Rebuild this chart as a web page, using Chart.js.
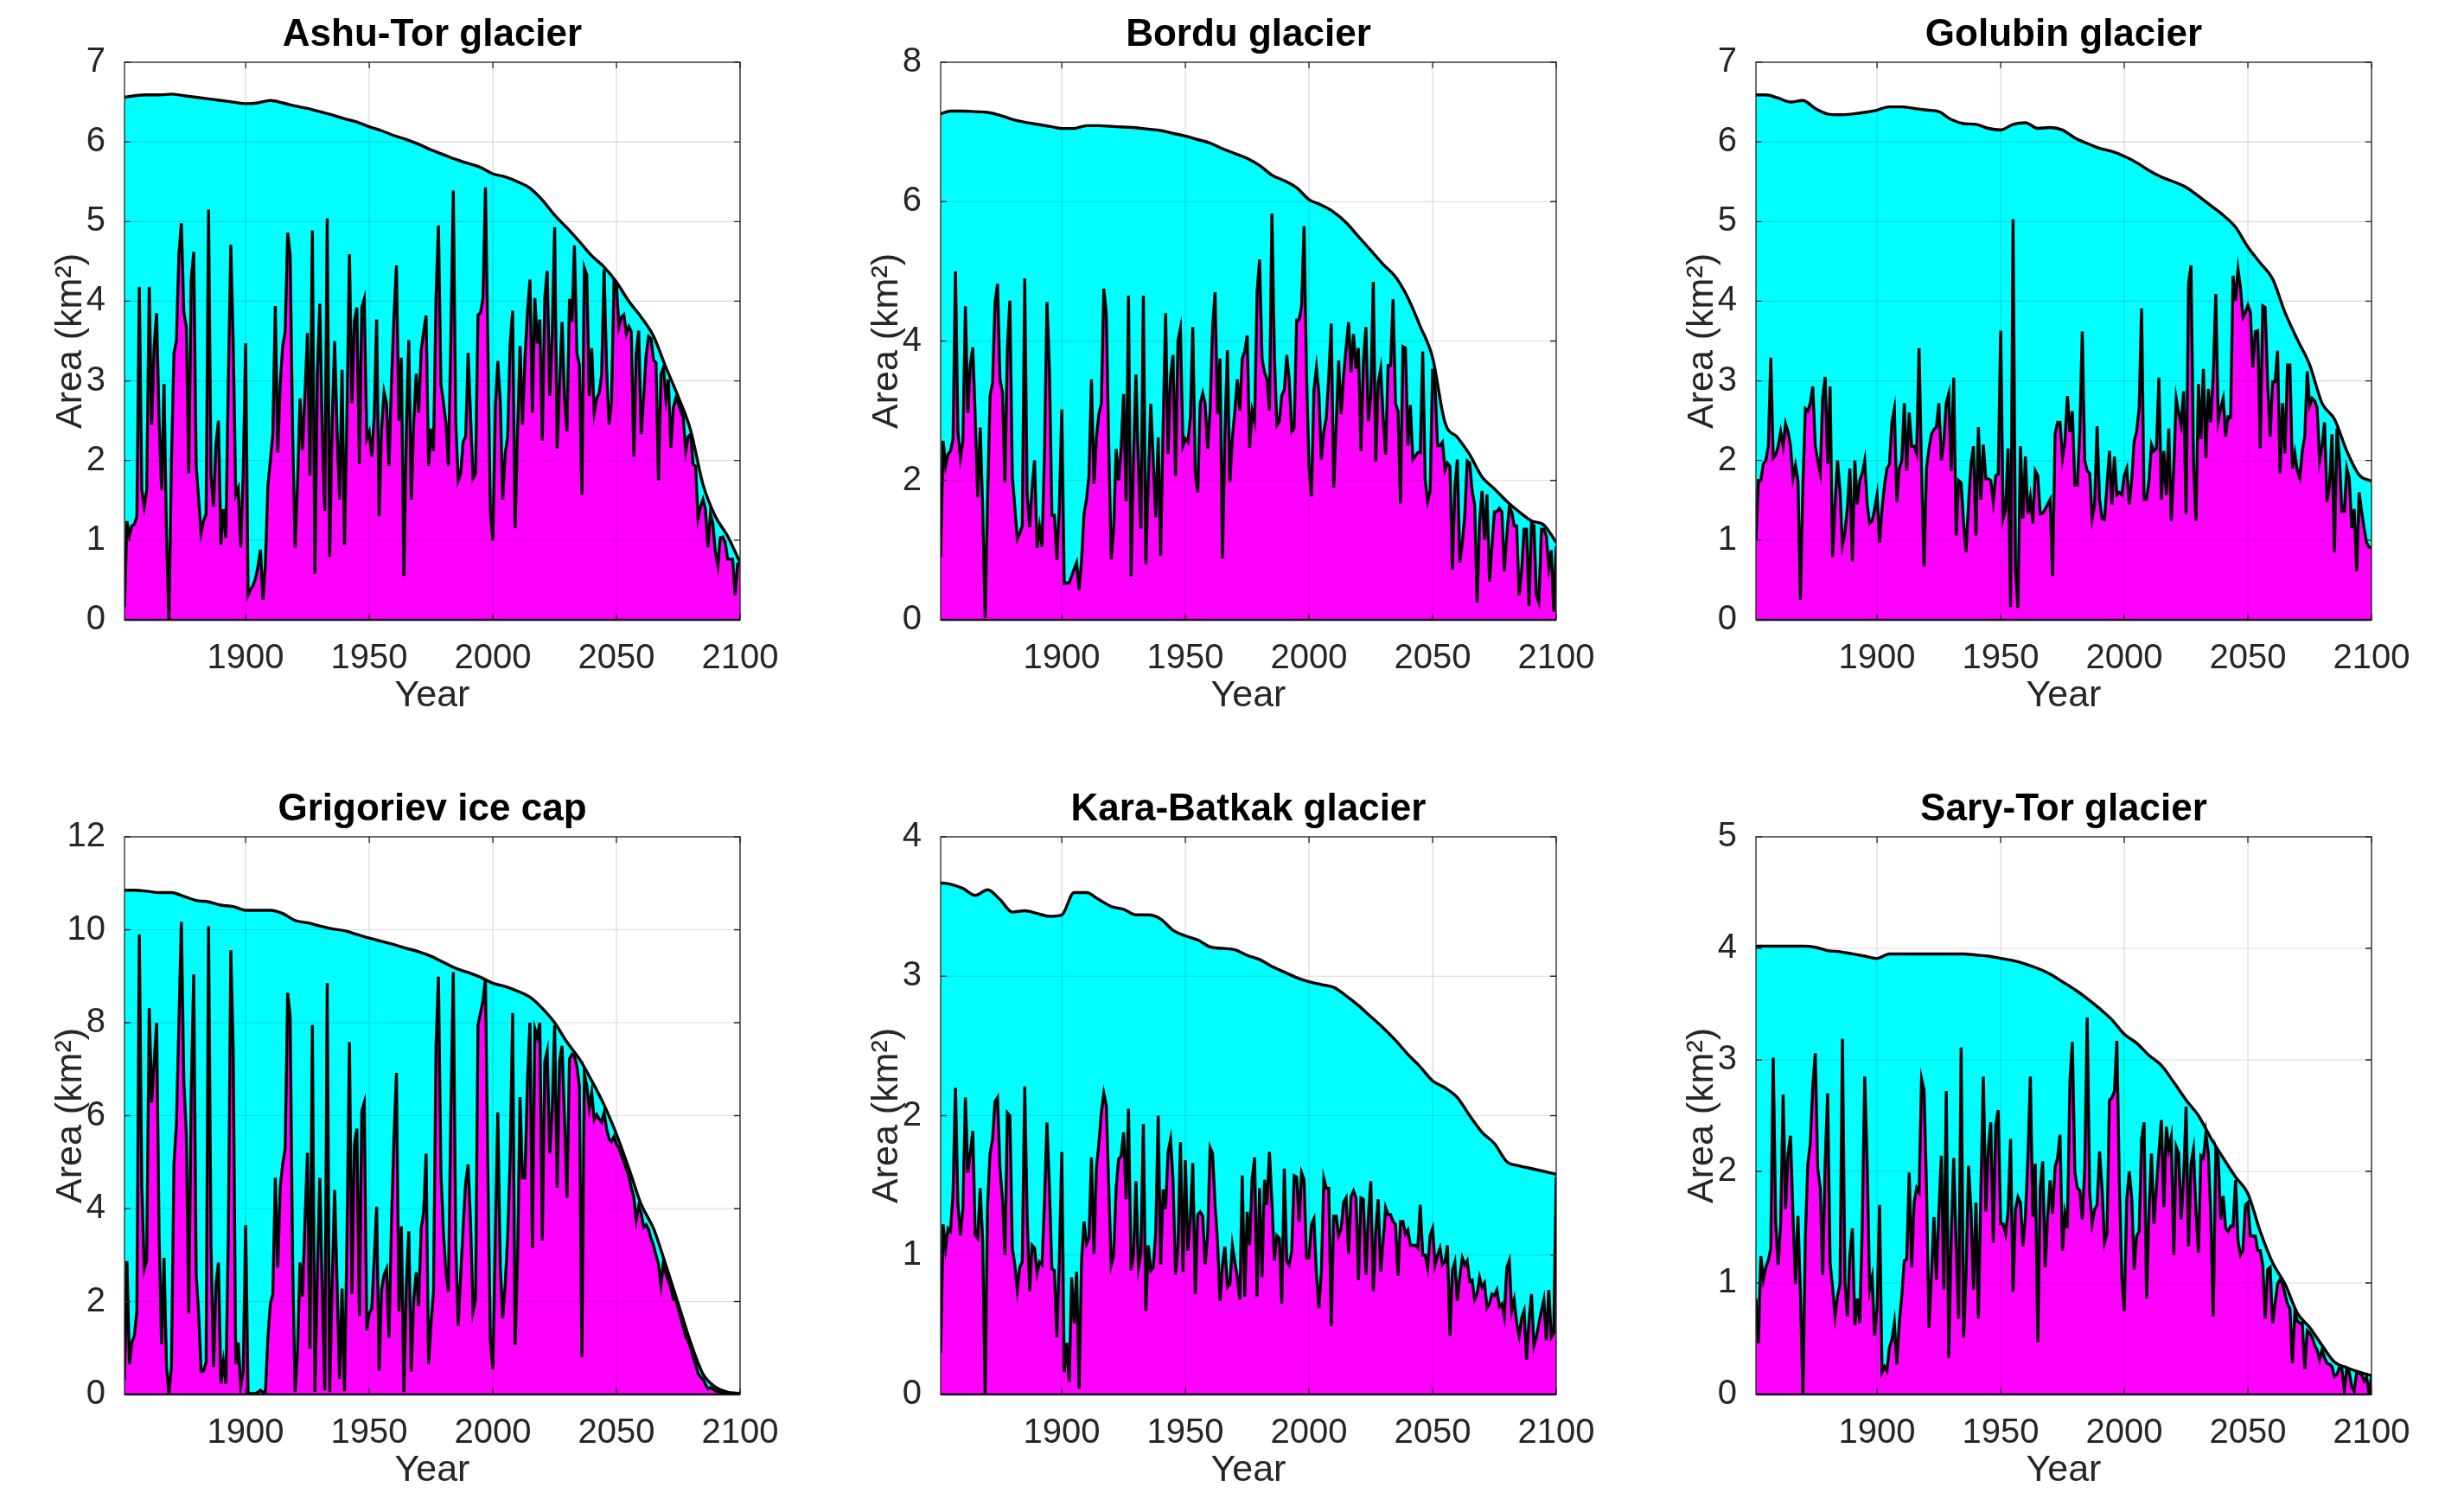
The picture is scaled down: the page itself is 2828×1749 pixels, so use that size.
<!DOCTYPE html>
<html>
<head>
<meta charset="utf-8">
<title>Glacier and snow-covered area</title>
<script src="https://cdn.jsdelivr.net/npm/chart.js@4"></script>
<style>
  html, body { margin: 0; padding: 0; background: #fff; }
  body { width: 2828px; height: 1749px; position: relative; overflow: hidden; }
  canvas { position: absolute; }
</style>
</head>
<body>
<script>
// annual series start here, one value per year up to 2100
const firstYear = 1851;
// glacier area is read every five years
const areaYears = [1851, 1855, 1860, 1865, 1870, 1875, 1880, 1885, 1890, 1895,
  1900, 1905, 1910, 1915, 1920, 1925, 1930, 1935, 1940, 1945,
  1950, 1955, 1960, 1965, 1970, 1975, 1980, 1985, 1990, 1995,
  2000, 2005, 2010, 2015, 2020, 2025, 2030, 2035, 2040, 2045,
  2050, 2055, 2060, 2065, 2070, 2075, 2080, 2085, 2090, 2095, 2100];
const xTicks = [1900, 1950, 2000, 2050, 2100];

const titles = ['Ashu-Tor glacier', 'Bordu glacier', 'Golubin glacier',
  'Grigoriev ice cap', 'Kara-Batkak glacier', 'Sary-Tor glacier'];
const yMax = [7, 8, 7, 12, 4, 5];
const yStep = [1, 2, 1, 2, 1, 1];

// glacier area (km2), cyan
const ashuTorArea = [6.56, 6.58, 6.59, 6.59, 6.6, 6.58, 6.56, 6.54, 6.52, 6.5,
  6.48, 6.49, 6.52, 6.49, 6.45, 6.42, 6.38, 6.34, 6.29, 6.25,
  6.19, 6.14, 6.08, 6.03, 5.97, 5.9, 5.84, 5.78, 5.73, 5.68,
  5.6, 5.56, 5.5, 5.42, 5.27, 5.08, 4.92, 4.75, 4.57, 4.43,
  4.24, 4.0, 3.8, 3.56, 3.17, 2.8, 2.38, 1.7, 1.3, 1.05, 0.72];
const borduArea = [7.26, 7.3, 7.3, 7.29, 7.28, 7.24, 7.18, 7.14, 7.11, 7.08,
  7.05, 7.05, 7.09, 7.09, 7.08, 7.07, 7.06, 7.04, 7.02, 6.98,
  6.94, 6.89, 6.84, 6.76, 6.69, 6.62, 6.52, 6.38, 6.3, 6.2,
  6.03, 5.95, 5.85, 5.7, 5.5, 5.3, 5.1, 4.92, 4.62, 4.21,
  3.76, 2.83, 2.62, 2.37, 2.05, 1.88, 1.7, 1.55, 1.42, 1.36, 1.11];
const golubinArea = [6.59, 6.59, 6.55, 6.5, 6.52, 6.42, 6.35, 6.34, 6.35, 6.37,
  6.4, 6.44, 6.44, 6.42, 6.4, 6.38, 6.28, 6.23, 6.22, 6.17,
  6.15, 6.22, 6.24, 6.17, 6.18, 6.15, 6.05, 5.98, 5.92, 5.88,
  5.82, 5.74, 5.64, 5.56, 5.5, 5.43, 5.32, 5.2, 5.08, 4.93,
  4.68, 4.48, 4.28, 3.86, 3.52, 3.2, 2.72, 2.52, 2.12, 1.82, 1.74];
const grigorievArea = [10.85, 10.85, 10.83, 10.8, 10.8, 10.72, 10.63, 10.6, 10.53, 10.5,
  10.42, 10.42, 10.42, 10.35, 10.2, 10.15, 10.08, 10.02, 9.98, 9.9,
  9.82, 9.75, 9.68, 9.6, 9.53, 9.43, 9.3, 9.17, 9.08, 8.98,
  8.85, 8.78, 8.68, 8.55, 8.31, 8.0, 7.58, 7.22, 6.75, 6.23,
  5.6, 4.87, 4.09, 3.57, 2.78, 1.95, 1.12, 0.44, 0.16, 0.05, 0.02];
const karaBatkakArea = [3.67, 3.66, 3.63, 3.58, 3.62, 3.55, 3.46, 3.47, 3.45, 3.43,
  3.44, 3.6, 3.6, 3.55, 3.5, 3.48, 3.44, 3.44, 3.41, 3.33,
  3.29, 3.26, 3.21, 3.2, 3.19, 3.15, 3.12, 3.07, 3.03, 2.99,
  2.96, 2.94, 2.92, 2.86, 2.79, 2.71, 2.63, 2.54, 2.44, 2.35,
  2.25, 2.2, 2.13, 2.0, 1.88, 1.8, 1.67, 1.64, 1.62, 1.6, 1.58];
const saryTorArea = [4.02, 4.02, 4.02, 4.02, 4.02, 4.01, 3.98, 3.97, 3.95, 3.93,
  3.91, 3.95, 3.95, 3.95, 3.95, 3.95, 3.95, 3.95, 3.94, 3.93,
  3.91, 3.89, 3.86, 3.82, 3.77, 3.7, 3.63, 3.55, 3.46, 3.36,
  3.23, 3.15, 3.04, 2.95, 2.8, 2.64, 2.5, 2.3, 2.12, 1.95,
  1.8, 1.46, 1.18, 0.99, 0.73, 0.6, 0.44, 0.29, 0.24, 0.2, 0.17];

// snow-covered area (km2), magenta, 1851-2100
const ashuTorSnow = [
  0.16, 1.24, 1.06, 1.18, 1.2, 1.3, 4.18, 1.63, 1.42, 1.63,
  4.18, 2.45, 3.44, 3.85, 2.48, 1.63, 2.96, 1.03, 0.0, 2.0,
  3.35, 3.5, 4.59, 4.98, 3.86, 3.68, 1.84, 4.28, 4.62, 1.93,
  1.51, 1.09, 1.24, 1.33, 5.15, 1.81, 1.42, 2.2, 2.5, 0.94,
  1.39, 1.03, 3.0, 4.71, 3.44, 1.57, 1.65, 0.91, 1.81, 3.47,
  0.31, 0.38, 0.43, 0.52, 0.67, 0.88, 0.25, 0.7, 1.68, 2.0,
  2.33, 3.94, 2.1, 2.96, 3.44, 3.62, 4.86, 4.59, 2.36, 0.91,
  1.69, 2.78, 2.13, 2.84, 3.6, 1.81, 4.89, 0.58, 3.08, 3.97,
  2.36, 1.37, 5.04, 0.79, 2.48, 3.5, 2.36, 1.51, 3.14, 0.94,
  2.6, 4.59, 2.72, 3.75, 3.92, 1.96, 3.92, 4.03, 2.27, 2.36,
  2.05, 2.54, 3.77, 1.3, 2.4, 2.86, 2.72, 1.93, 3.0, 3.8,
  4.45, 2.5, 3.29, 0.55, 2.36, 3.51, 1.51, 2.48, 3.09, 2.6,
  3.38, 3.62, 3.82, 1.93, 2.4, 2.12, 4.04, 4.95, 2.96, 2.73,
  2.48, 1.93, 3.5, 5.39, 2.48, 1.75, 1.84, 2.24, 2.3, 3.35,
  2.54, 1.78, 1.84, 3.83, 3.85, 4.04, 5.43, 3.4, 1.36, 1.0,
  2.66, 3.25, 2.75, 1.51, 2.09, 2.3, 3.47, 3.88, 1.15, 2.36,
  3.44, 2.45, 3.29, 3.86, 4.27, 2.6, 4.04, 3.47, 3.77, 2.25,
  4.04, 4.38, 2.81, 3.56, 4.93, 2.15, 2.96, 3.74, 2.78, 2.37,
  4.03, 3.74, 4.7, 3.35, 3.2, 1.57, 4.42, 4.33, 2.81, 3.41,
  2.6, 2.78, 2.84, 3.08, 4.4, 3.17, 2.45, 2.72, 4.24, 4.2,
  3.68, 3.8, 3.83, 3.59, 3.68, 3.62, 2.05, 3.35, 3.63, 2.33,
  2.78, 3.32, 3.56, 3.53, 3.26, 3.23, 1.75, 3.08, 3.17, 2.78,
  3.02, 2.16, 2.66, 2.78, 2.72, 2.63, 2.54, 2.12, 2.3, 2.33,
  1.95, 1.93, 1.27, 1.42, 1.51, 1.39, 0.91, 1.33, 1.21, 0.85,
  0.68, 1.03, 1.04, 0.97, 0.76, 0.76, 0.76, 0.31, 0.7, 0.7];
const borduSnow = [
  0.9, 2.57, 2.21, 2.38, 2.42, 2.6, 5.0, 2.7, 2.32, 2.56,
  4.5, 2.97, 3.66, 3.91, 2.9, 1.76, 2.76, 1.6, 0.03, 1.73,
  3.22, 3.4, 4.55, 4.82, 3.45, 3.26, 1.97, 3.9, 4.58, 2.05,
  1.62, 1.16, 1.24, 1.35, 4.9, 1.79, 1.33, 1.9, 2.29, 1.03,
  1.33, 1.05, 2.4, 4.56, 3.6, 1.5, 1.5, 0.86, 1.6, 3.02,
  0.52, 0.53, 0.53, 0.63, 0.73, 0.82, 0.43, 0.85, 1.52, 1.73,
  2.07, 3.45, 1.95, 2.6, 2.95, 3.1, 4.75, 4.4, 2.5, 0.87,
  1.3, 2.45, 2.0, 2.45, 3.24, 1.7, 4.65, 0.62, 2.3, 3.52,
  2.2, 1.3, 4.65, 0.8, 2.0, 3.1, 2.3, 1.47, 2.62, 0.92,
  2.8, 4.4, 2.38, 3.5, 3.8, 2.07, 4.0, 4.18, 2.5, 2.6,
  2.55, 2.9, 4.2, 2.1, 1.83, 3.1, 3.25, 3.1, 2.45, 3.0,
  4.2, 4.7, 2.95, 3.75, 0.88, 2.7, 3.87, 1.98, 2.6, 3.0,
  3.45, 3.0, 3.75, 3.85, 4.08, 2.47, 3.0, 2.85, 4.7, 5.17,
  3.75, 3.55, 3.45, 3.0, 5.83, 3.8, 2.79, 2.85, 3.22, 3.3,
  3.8, 3.45, 2.7, 2.75, 4.3, 4.3, 4.5, 5.65, 3.5, 2.2,
  1.77, 3.3, 3.62, 3.25, 2.3, 2.7, 2.9, 3.5, 4.25, 1.9,
  2.8, 3.72, 2.95, 3.5, 3.9, 4.27, 3.55, 4.1, 3.6, 3.9,
  2.42, 3.7, 4.2, 2.85, 3.2, 4.85, 2.27, 3.4, 3.6, 2.9,
  2.37, 3.65, 3.65, 4.6, 3.1, 3.0, 1.67, 3.92, 3.9, 2.5,
  3.08, 2.3, 2.35, 2.4, 2.4, 3.85, 2.0, 1.7, 1.85, 3.6,
  3.35, 2.5, 2.5, 2.55, 2.15, 2.25, 2.2, 0.72, 1.9, 2.3,
  0.82, 1.1, 1.5, 2.28, 2.25, 1.85, 1.65, 0.25, 1.4, 1.85,
  1.15, 1.8, 0.55, 1.05, 1.55, 1.55, 1.6, 1.55, 0.7, 1.2,
  1.62, 1.55, 1.35, 1.35, 0.35, 0.7, 1.3, 1.3, 0.2, 1.38,
  1.35, 0.35, 0.25, 1.3, 1.3, 1.2, 0.75, 1.0, 0.12, 1.05];
const golubinSnow = [
  1.0, 1.75, 1.75, 1.96, 2.0, 2.18, 3.29, 2.03, 2.07, 2.18,
  2.36, 2.18, 2.46, 2.36, 2.18, 1.78, 1.94, 1.75, 0.25, 1.7,
  2.65, 2.62, 2.72, 2.93, 2.18, 2.0, 1.84, 2.78, 3.05, 1.96,
  2.93, 0.79, 1.45, 2.0, 1.63, 0.94, 1.09, 1.42, 1.9, 0.73,
  2.0, 1.45, 1.75, 1.84, 2.0, 1.45, 1.21, 1.24, 1.39, 1.57,
  0.97, 1.39, 1.69, 1.9, 1.95, 2.48, 2.65, 1.48, 1.9, 2.0,
  2.72, 1.87, 2.6, 2.18, 2.18, 2.09, 3.41, 1.87, 0.67, 1.9,
  2.15, 2.33, 2.39, 2.42, 2.72, 2.0, 2.24, 2.72, 2.84, 1.87,
  3.04, 1.06, 1.75, 1.72, 1.21, 0.85, 1.45, 1.96, 2.18, 1.06,
  2.42, 1.51, 2.2, 1.77, 1.77, 1.75, 1.48, 1.81, 1.83, 3.63,
  1.27, 1.39, 2.15, 0.16, 5.03, 0.65, 0.15, 2.18, 1.27, 2.05,
  1.33, 1.54, 1.21, 1.87, 1.81, 1.33, 1.34, 1.39, 1.45, 1.51,
  0.55, 2.33, 2.48, 2.48, 2.03, 2.24, 2.81, 2.36, 2.62, 1.69,
  1.69, 2.36, 3.62, 2.0, 1.87, 1.84, 1.27, 1.45, 2.43, 1.51,
  1.27, 1.26, 1.69, 2.12, 1.45, 2.05, 1.57, 1.6, 1.57, 1.81,
  1.9, 1.45, 1.75, 2.25, 2.36, 2.66, 3.91, 1.51, 1.51, 1.75,
  2.2, 2.12, 2.15, 3.04, 1.51, 2.12, 1.57, 2.4, 1.24, 1.9,
  2.78, 2.6, 2.45, 2.87, 1.33, 4.23, 4.45, 1.96, 1.24, 2.96,
  2.27, 3.15, 2.03, 2.9, 2.48, 3.08, 4.09, 2.5, 2.66, 2.78,
  2.3, 2.55, 2.54, 4.32, 4.0, 4.4, 4.17, 3.8, 3.86, 3.95,
  3.86, 3.17, 3.62, 3.63, 2.15, 3.94, 3.92, 2.96, 2.3, 2.99,
  2.99, 3.38, 1.84, 2.72, 2.09, 3.2, 3.2, 1.9, 2.09, 1.87,
  1.78, 2.12, 2.3, 3.12, 2.69, 2.78, 2.75, 2.66, 2.0, 2.18,
  2.48, 1.48, 1.69, 2.33, 0.85, 2.4, 2.05, 1.36, 1.36, 1.9,
  1.78, 1.15, 1.39, 0.61, 1.6, 1.36, 1.15, 0.97, 0.91, 0.91];
const grigorievSnow = [
  0.31, 2.87, 0.65, 1.12, 1.27, 1.79, 9.9, 4.45, 2.7, 2.89,
  8.31, 6.28, 7.16, 8.0, 3.41, 1.08, 2.94, 0.59, 0.02, 0.59,
  4.97, 5.81, 8.0, 10.17, 6.75, 5.6, 1.74, 6.54, 9.04, 2.58,
  1.74, 0.49, 0.51, 0.7, 10.08, 3.2, 0.59, 2.37, 2.84, 0.23,
  0.7, 0.23, 3.41, 9.56, 7.37, 0.65, 1.12, 0.18, 0.49, 3.64,
  0.02, 0.02, 0.02, 0.02, 0.05, 0.09, 0.05, 0.05, 1.22, 1.95,
  2.16, 4.66, 2.73, 4.45, 4.97, 5.29, 8.64, 8.15, 2.89, 0.05,
  0.91, 2.84, 2.11, 3.72, 5.2, 0.98, 7.95, 0.05, 2.58, 4.66,
  2.26, 0.09, 8.85, 0.05, 2.37, 4.4, 2.37, 0.33, 2.28, 0.07,
  3.41, 7.58, 2.16, 5.39, 5.72, 1.69, 6.1, 6.28, 1.38, 1.74,
  1.85, 2.89, 4.04, 0.51, 2.26, 2.58, 2.7, 1.22, 3.72, 5.5,
  6.92, 1.79, 3.62, 0.05, 2.37, 3.51, 0.49, 2.05, 2.63, 1.9,
  3.57, 3.93, 5.18, 0.65, 1.53, 2.21, 7.48, 8.99, 4.77, 3.51,
  2.63, 2.21, 6.02, 9.09, 3.2, 1.48, 2.58, 3.62, 4.56, 4.95,
  3.67, 1.79, 2.05, 7.95, 8.21, 8.47, 8.94, 4.77, 1.17, 0.54,
  3.41, 6.07, 2.78, 1.64, 2.37, 3.41, 5.08, 8.21, 1.06, 2.89,
  6.4, 4.66, 4.66, 6.75, 8.0, 3.15, 7.87, 7.69, 8.0, 3.31,
  7.16, 7.39, 5.18, 6.12, 7.95, 4.45, 7.16, 7.5, 5.91, 4.24,
  7.22, 7.32, 7.28, 7.06, 6.64, 0.8, 6.9, 6.64, 6.17, 6.49,
  5.91, 6.02, 5.93, 5.86, 6.07, 5.72, 5.5, 5.44, 5.55, 5.39,
  5.3, 5.15, 5.0, 4.85, 4.7, 4.45, 4.25, 3.75, 4.05, 3.9,
  3.6, 3.65, 3.55, 3.35, 3.2, 3.0, 2.8, 2.35, 2.85, 2.6,
  2.45, 2.3, 2.05, 2.05, 1.85, 1.65, 1.45, 1.25, 1.15, 1.0,
  0.8, 0.65, 0.45, 0.38, 0.32, 0.22, 0.12, 0.15, 0.12, 0.08,
  0.06, 0.05, 0.05, 0.04, 0.04, 0.03, 0.03, 0.02, 0.02, 0.02];
const karaBatkakSnow = [
  0.3, 1.22, 1.05, 1.19, 1.17, 1.45, 2.2, 1.36, 1.14, 1.33,
  2.13, 1.59, 1.73, 1.89, 1.14, 1.12, 1.48, 1.1, 0.0, 1.36,
  1.73, 1.83, 2.1, 2.13, 1.62, 1.4, 1.0, 2.02, 2.0, 1.05,
  0.93, 0.75, 0.91, 0.95, 2.21, 1.28, 0.74, 1.07, 1.05, 0.87,
  0.95, 0.93, 1.38, 1.95, 1.48, 0.9, 0.89, 0.41, 0.96, 1.74,
  0.16, 0.37, 0.09, 0.84, 0.51, 0.88, 0.04, 0.96, 1.24, 1.08,
  1.12, 1.7, 1.01, 1.62, 1.8, 2.02, 2.16, 2.07, 1.48, 0.93,
  1.0, 1.48, 1.69, 1.71, 1.88, 1.4, 2.05, 0.89, 1.0, 1.53,
  0.91, 1.01, 1.94, 0.6, 1.07, 0.89, 0.91, 1.17, 2.0, 0.93,
  1.47, 1.33, 1.74, 1.83, 1.54, 0.86, 1.07, 1.81, 0.88, 1.68,
  1.03, 1.26, 1.66, 0.72, 1.29, 1.31, 1.28, 0.93, 1.14, 1.77,
  1.73, 1.36, 1.1, 0.67, 0.93, 1.06, 0.77, 0.79, 1.07, 0.95,
  0.84, 0.68, 1.57, 0.7, 1.31, 1.07, 1.55, 1.7, 0.7, 1.48,
  0.84, 1.54, 1.36, 1.74, 1.38, 0.96, 1.14, 1.12, 0.65, 1.62,
  0.96, 0.93, 1.03, 1.57, 1.56, 1.24, 1.59, 1.54, 0.98, 0.98,
  1.22, 1.26, 0.86, 0.62, 0.88, 1.55, 1.48, 1.48, 0.49, 1.28,
  1.28, 1.14, 1.19, 1.38, 1.41, 1.01, 1.42, 1.46, 1.41, 0.82,
  1.41, 1.4, 0.86, 1.28, 1.53, 0.74, 1.17, 1.4, 0.88, 1.1,
  1.34, 1.29, 1.29, 1.24, 1.22, 0.85, 1.24, 1.24, 1.15, 1.18,
  1.07, 1.07, 1.07, 1.05, 1.36, 1.0, 1.0, 0.91, 1.14, 1.19,
  0.93, 1.0, 1.05, 0.93, 0.95, 1.07, 0.42, 0.89, 0.95, 0.67,
  0.84, 0.98, 0.93, 0.96, 0.81, 0.82, 0.68, 0.72, 0.84, 0.77,
  0.8, 0.62, 0.65, 0.72, 0.71, 0.75, 0.63, 0.65, 0.56, 0.91,
  0.96, 0.6, 0.68, 0.51, 0.42, 0.55, 0.6, 0.25, 0.53, 0.72,
  0.35, 0.41, 0.51, 0.6, 0.68, 0.39, 0.75, 0.41, 0.44, 1.56];
const saryTorSnow = [
  0.86, 0.46, 1.24, 1.03, 1.14, 1.2, 1.31, 3.02, 1.53, 1.16,
  1.53, 2.69, 1.66, 2.16, 2.32, 1.59, 0.99, 1.6, 0.9, 0.0,
  1.42, 2.07, 2.25, 2.77, 3.06, 2.03, 1.85, 1.07, 2.07, 2.7,
  1.18, 0.96, 0.7, 0.88, 0.99, 3.19, 0.99, 0.7, 1.25, 1.49,
  0.62, 0.86, 0.64, 1.51, 2.85, 2.07, 0.94, 1.05, 0.53, 0.77,
  1.7, 0.2, 0.25, 0.21, 0.42, 0.49, 0.64, 0.27, 0.64, 0.88,
  1.2, 1.21, 1.99, 1.14, 1.72, 1.85, 1.81, 2.83, 2.73, 1.85,
  0.6, 1.07, 1.59, 1.03, 1.64, 2.14, 0.94, 2.72, 0.33, 1.42,
  2.12, 1.33, 0.68, 3.11, 0.51, 1.07, 2.05, 1.66, 0.94, 1.72,
  0.68, 1.85, 2.85, 1.64, 2.2, 2.44, 1.36, 2.42, 2.55, 1.53,
  1.53, 1.44, 1.64, 2.29, 0.92, 1.66, 1.77, 1.72, 1.33, 1.59,
  2.12, 2.85, 1.59, 2.07, 0.47, 1.85, 2.09, 1.14, 1.59, 1.92,
  1.62, 2.04, 2.12, 2.33, 1.29, 1.62, 1.49, 2.81, 3.16, 1.99,
  1.85, 1.83, 1.57, 2.03, 3.38, 1.81, 1.53, 1.66, 1.7, 2.18,
  1.85, 1.36, 1.44, 2.64, 2.66, 2.72, 3.17, 1.9, 1.05, 0.75,
  1.75, 2.0, 1.77, 1.12, 1.42, 1.46, 2.29, 2.44, 0.86, 1.64,
  2.16, 1.53, 1.85, 2.18, 2.46, 1.68, 2.4, 2.2, 2.31, 1.25,
  2.22, 2.16, 1.57, 1.94, 2.58, 1.33, 2.07, 2.2, 1.64, 1.27,
  2.14, 2.12, 2.34, 2.16, 1.59, 0.7, 2.2, 2.12, 1.57, 1.78,
  1.49, 1.46, 1.51, 1.51, 1.92, 1.38, 1.25, 1.29, 1.7, 1.72,
  1.42, 1.42, 1.42, 1.29, 1.29, 1.16, 0.68, 1.12, 1.14, 0.64,
  0.81, 0.99, 1.03, 0.99, 0.9, 0.81, 0.77, 0.28, 0.74, 0.66,
  0.64, 0.64, 0.23, 0.57, 0.55, 0.51, 0.44, 0.4, 0.31, 0.4,
  0.33, 0.28, 0.27, 0.25, 0.16, 0.18, 0.24, 0.23, 0.03, 0.23,
  0.2, 0.07, 0.03, 0.2, 0.19, 0.18, 0.12, 0.16, 0.01, 0.16];

const areas = [ashuTorArea, borduArea, golubinArea, grigorievArea, karaBatkakArea, saryTorArea];
const snows = [ashuTorSnow, borduSnow, golubinSnow, grigorievSnow, karaBatkakSnow, saryTorSnow];

// page layout: plot box of each panel
const boxLefts = [144, 1088, 2031];
const boxTops = [72, 968];
const boxW = 712;
const boxH = 645;
const axisW = 144;   // room left of the box for ticks and y label
const titleH = 72;   // room above the box
const xAxisH = 124;  // room under the box
const padRight = 70;

const font = "'Liberation Sans', Arial, Helvetica, sans-serif";
const ink = '#262626';
const lineW = 3.4;

// grid above the fills, inward ticks and the box, as matlab draws it
const frame = {
  id: 'frame',
  afterDatasetsDraw(chart) {
    const { ctx, chartArea: a, scales: { x, y } } = chart;
    const xs = x.ticks.map((t) => x.getPixelForValue(t.value));
    const ys = y.ticks.map((t) => y.getPixelForValue(t.value));
    ctx.save();
    ctx.lineWidth = 1.2;
    ctx.strokeStyle = 'rgba(38,38,38,0.17)';
    ctx.beginPath();
    xs.forEach((px) => { ctx.moveTo(px, a.top); ctx.lineTo(px, a.bottom); });
    ys.forEach((py) => { ctx.moveTo(a.left, py); ctx.lineTo(a.right, py); });
    ctx.stroke();

    ctx.strokeStyle = ink;
    ctx.lineWidth = 1.3;
    ctx.beginPath();
    xs.forEach((px) => {
      ctx.moveTo(px, a.bottom); ctx.lineTo(px, a.bottom - 7);
      ctx.moveTo(px, a.top); ctx.lineTo(px, a.top + 7);
    });
    ys.forEach((py) => {
      ctx.moveTo(a.left, py); ctx.lineTo(a.left + 7, py);
      ctx.moveTo(a.right, py); ctx.lineTo(a.right - 7, py);
    });
    ctx.stroke();
    ctx.strokeRect(a.left, a.top, a.right - a.left, a.bottom - a.top);

    ctx.strokeStyle = '#111';
    ctx.lineWidth = 2.4;
    ctx.beginPath();
    ctx.moveTo(a.left, a.bottom);
    ctx.lineTo(a.right, a.bottom);
    ctx.stroke();
    ctx.restore();
  },
};

titles.forEach((title, i) => {
  const col = i % 3;
  const row = Math.floor(i / 3);
  const canvas = document.createElement('canvas');
  canvas.width = axisW + boxW + padRight;
  canvas.height = titleH + boxH + xAxisH;
  canvas.style.left = (boxLefts[col] - axisW) + 'px';
  canvas.style.top = (boxTops[row] - titleH) + 'px';
  canvas.style.width = canvas.width + 'px';
  canvas.style.height = canvas.height + 'px';
  document.body.appendChild(canvas);

  const snowPoints = snows[i].map((v, k) => ({ x: firstYear + k, y: v }));
  const areaPoints = areas[i].map((v, k) => ({ x: areaYears[k], y: v }));

  new Chart(canvas, {
    type: 'line',
    data: {
      datasets: [
        {
          label: 'Snow-covered area',
          data: snowPoints,
          backgroundColor: '#ff00ff',
          borderColor: '#000000',
          borderWidth: lineW,
          borderJoinStyle: 'miter',
          fill: 'origin',
          pointRadius: 0,
          tension: 0,
          order: 1,
        },
        {
          label: 'Glacier area',
          data: areaPoints,
          backgroundColor: '#00ffff',
          borderColor: '#000000',
          borderWidth: lineW,
          fill: 'origin',
          pointRadius: 0,
          cubicInterpolationMode: 'monotone',
          order: 2,
        },
      ],
    },
    options: {
      responsive: false,
      animation: false,
      devicePixelRatio: 1,
      events: [],
      layout: { padding: { left: 0, right: padRight, top: 0, bottom: 0 } },
      plugins: {
        legend: { display: false },
        tooltip: { enabled: false },
        title: {
          display: true,
          text: title,
          fullSize: false,
          color: '#000000',
          font: { family: font, size: 44, weight: 'bold' },
          padding: { top: 14, bottom: 5.2 },
        },
      },
      scales: {
        x: {
          type: 'linear',
          min: firstYear,
          max: 2100,
          grid: { display: false },
          border: { display: false },
          afterBuildTicks: (s) => { s.ticks = xTicks.map((v) => ({ value: v })); },
          afterFit: (s) => { s.height = xAxisH; },
          ticks: {
            color: ink,
            font: { family: font, size: 40 },
            padding: 13,
            maxRotation: 0,
            autoSkip: false,
            callback: (v) => String(v),
          },
          title: {
            display: true,
            text: 'Year',
            color: ink,
            font: { family: font, size: 43 },
            padding: { top: 0, bottom: 10 },
          },
        },
        y: {
          min: 0,
          max: yMax[i],
          grid: { display: false },
          border: { display: false },
          afterFit: (s) => { s.width = axisW; },
          ticks: {
            stepSize: yStep[i],
            color: ink,
            font: { family: font, size: 40 },
            padding: 14,
            callback: (v) => String(v),
          },
          title: {
            display: true,
            text: 'Area (km²)',
            color: ink,
            font: { family: font, size: 43 },
            padding: { top: 56, bottom: 0 },
          },
        },
      },
    },
    plugins: [frame],
  });
});
</script>
</body>
</html>
